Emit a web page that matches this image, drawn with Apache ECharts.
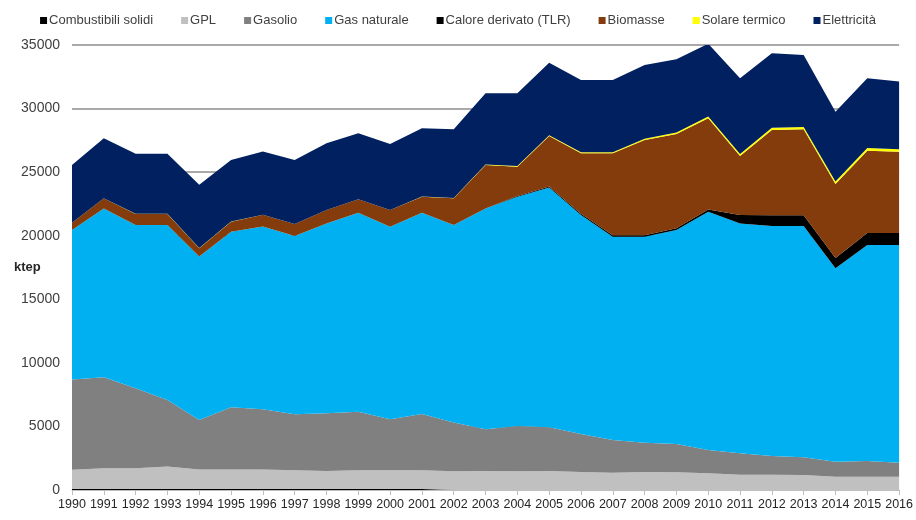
<!DOCTYPE html>
<html>
<head>
<meta charset="utf-8">
<script src="https://cdn.jsdelivr.net/npm/echarts@6/dist/echarts.min.js"></script>
<style>
  html, body { margin: 0; padding: 0; background: #fff; }
  #chart { width: 916px; height: 520px; }
</style>
</head>
<body>
<div id="chart"></div>
<script>
// anni
const years = ['1990','1991','1992','1993','1994','1995','1996','1997','1998','1999','2000','2001','2002',
  '2003','2004','2005','2006','2007','2008','2009','2010','2011','2012','2013','2014','2015','2016'];

// ktep per fonte
const combustibiliSolidi = [70,70,70,70,70,70,70,70,70,70,70,70,0,0,0,0,0,0,0,0,0,0,0,0,0,0,0];
const gpl = [1530,1650,1650,1780,1550,1550,1550,1490,1430,1490,1490,1490,1480,1500,1480,1500,1420,1350,1420,1400,1320,1200,1200,1180,1050,1050,1050];
const gasolio = [7100,7140,6280,5230,3890,4880,4730,4390,4530,4600,4000,4420,3820,3270,3550,3430,2980,2580,2300,2220,1830,1690,1470,1390,1180,1230,1100];
const gasNaturale = [11740,13290,12840,13760,12850,13820,14370,14030,14940,15650,15150,15830,15540,17380,18040,18870,17230,15990,16200,16830,18740,18080,18090,18190,15210,16990,17120];
const caloreDerivato = [0,0,0,0,0,0,0,0,0,0,0,0,0,0,60,80,100,120,120,130,180,650,850,850,800,950,950];
const biomasse = [570,790,870,870,660,780,920,940,1050,1050,1310,1260,2100,3410,2300,3960,4750,6440,7490,7420,7160,4650,6700,6760,5830,6470,6390];
const solareTermico = [10,10,10,10,10,10,10,10,10,10,10,10,30,50,60,70,80,90,100,110,140,160,180,190,190,200,200];
const elettricita = [4540,4720,4720,4720,4980,4850,4980,5030,5240,5190,5190,5380,5400,5590,5710,5700,5690,5680,5800,5760,5730,5950,5860,5650,5490,5490,5310];

const yTicks = [0, 5000, 10000, 15000, 20000, 25000, 30000, 35000];

const font = "'Liberation Sans Narrow', 'Liberation Sans', sans-serif";

const chart = echarts.init(document.getElementById('chart'));

function area(name, data, color) {
  return {
    name: name,
    type: 'line',
    stack: 'tot',
    data: data,
    showSymbol: false,
    symbol: 'none',
    lineStyle: { width: 0 },
    areaStyle: { color: color, opacity: 1 },
    itemStyle: { color: color },
    emphasis: { disabled: true }
  };
}

chart.setOption({
  animation: false,
  textStyle: { fontFamily: font },
  legend: {
    top: 9,
    left: 'center',
    icon: 'rect',
    itemWidth: 7,
    itemHeight: 7,
    itemGap: 28,
    textStyle: { fontSize: 13, color: '#404040', fontFamily: font, padding: [0, 0, 0, -3] },
    data: ['Combustibili solidi','GPL','Gasolio','Gas naturale','Calore derivato (TLR)','Biomasse','Solare termico','Elettricità']
  },
  grid: { left: 72, right: 16, top: 45, bottom: 30, containLabel: false },
  xAxis: {
    type: 'category',
    boundaryGap: false,
    data: years,
    axisLine: { lineStyle: { color: '#bfbfbf', width: 1 } },
    axisTick: { show: true, alignWithLabel: true, length: 5, lineStyle: { color: '#bfbfbf' } },
    axisLabel: { color: '#262626', fontSize: 12.5, margin: 8, interval: 0 },
    splitLine: { show: false }
  },
  yAxis: {
    type: 'value',
    min: yTicks[0],
    max: yTicks[yTicks.length - 1],
    interval: 5000,
    axisLine: { show: false },
    axisTick: { show: false },
    axisLabel: { color: '#404040', fontSize: 14, margin: 12, formatter: function (v) { return String(v); } },
    splitLine: { lineStyle: { color: '#8c8c8c', width: 1.5 } }
  },
  graphic: [{
    type: 'text',
    left: 14,
    top: 261,
    style: { text: 'ktep', font: 'bold 13px ' + font, fill: '#262626' }
  }],
  series: [
    area('Combustibili solidi', combustibiliSolidi, '#000000'),
    area('GPL', gpl, '#c0c0c0'),
    area('Gasolio', gasolio, '#808080'),
    area('Gas naturale', gasNaturale, '#00b0f0'),
    area('Calore derivato (TLR)', caloreDerivato, '#000000'),
    area('Biomasse', biomasse, '#843c0c'),
    area('Solare termico', solareTermico, '#ffff00'),
    area('Elettricità', elettricita, '#002060')
  ]
});
</script>
</body>
</html>
